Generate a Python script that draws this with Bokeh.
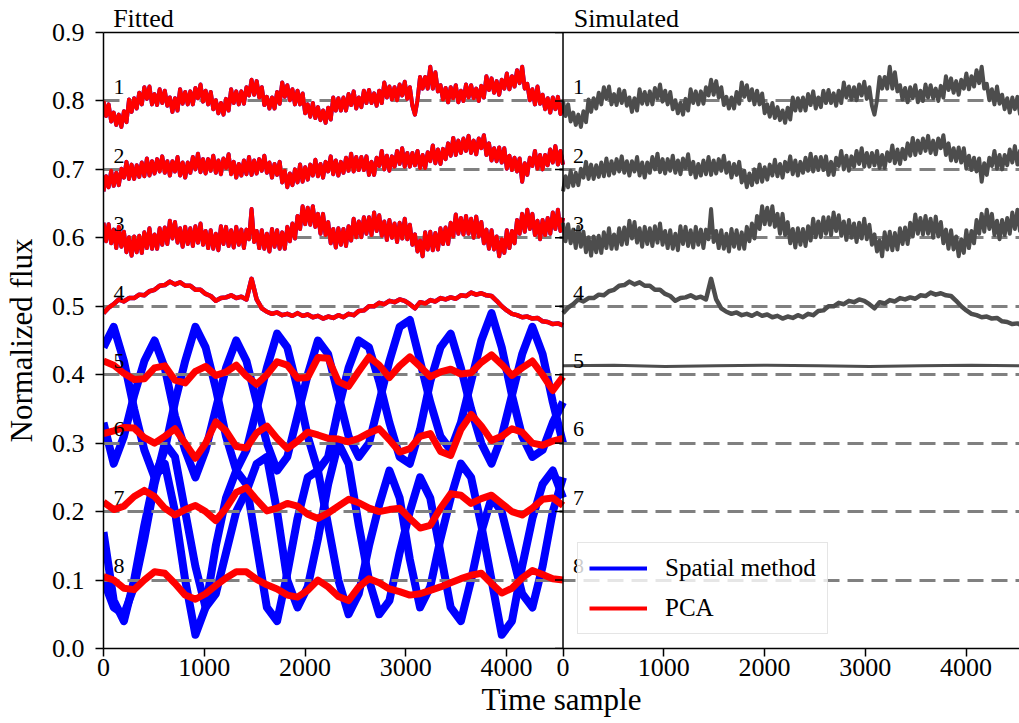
import numpy as np
from bokeh.plotting import figure
from bokeh.models import (Range1d, LinearAxis, FixedTicker, Span, Legend,
                          LegendItem, PrintfTickFormatter)
from bokeh.core.properties import value
from bokeh.embed import file_html
from bokeh.resources import INLINE

FONT = "Liberation Serif"

# ---------------- data ----------------
N_SAMPLES = 4560          # length of each time series
SIM_VISIBLE = 4530        # visible part of the simulated panel
OFFSETS = [0.8, 0.7, 0.6, 0.5, 0.4, 0.3, 0.2, 0.1]
SOURCE_LABELS = ["1", "2", "3", "4", "5", "6", "7", "8"]
Y_TICKS = [0.0, 0.1, 0.2, 0.3, 0.4, 0.5, 0.6, 0.7, 0.8, 0.9]
X_TICKS = [0, 1000, 2000, 3000, 4000]
PANEL_TITLES = ["Fitted", "Simulated"]
TITLE_CENTER_T = 397      # title centre, in samples from each panel's left edge
LABEL_T = 100

T_DENSE = np.linspace(0, N_SAMPLES, 181)
T_FINE = np.linspace(0, N_SAMPLES, 91)
T_COARSE = np.linspace(0, N_SAMPLES, 46)
T_FLAT = np.linspace(0, N_SAMPLES, 10)

SRC1 = [.800, .778, .795, .770, .783, .765, .780, .762, .785, .769,
        .802, .784, .804, .789, .812, .795, .820, .803, .821, .795,
        .810, .794, .817, .797, .815, .793, .805, .784, .804, .786,
        .817, .796, .813, .795, .814, .795, .819, .804, .824, .799,
        .815, .795, .813, .788, .801, .782, .797, .780, .803, .786,
        .817, .797, .814, .795, .814, .796, .820, .808, .831, .809,
        .829, .805, .820, .794, .806, .789, .805, .789, .813, .796,
        .827, .806, .823, .801, .817, .795, .815, .795, .811, .782,
        .795, .777, .797, .775, .791, .772, .786, .768, .790, .773,
        .805, .786, .804, .786, .805, .786, .810, .794, .814, .789,
        .805, .791, .815, .797, .816, .797, .811, .793, .815, .797,
        .827, .805, .821, .802, .820, .801, .824, .808, .828, .803,
        .820, .793, .780, .801, .835, .818, .835, .818, .850, .818,
        .842, .814, .823, .802, .819, .798, .820, .804, .823, .798,
        .815, .800, .824, .805, .823, .804, .818, .800, .822, .805,
        .836, .816, .833, .812, .829, .809, .831, .818, .840, .817,
        .836, .821, .845, .826, .850, .818, .825, .801, .817, .795,
        .821, .796, .809, .788, .804, .783, .805, .788, .806, .781,
        .797]
SRC2 = [.668, .690, .674, .698, .676, .695, .677, .701, .688, .711,
        .686, .707, .686, .706, .689, .710, .690, .716, .691, .712,
        .694, .715, .697, .719, .695, .712, .691, .712, .697, .718,
        .691, .710, .688, .710, .695, .718, .700, .723, .696, .715,
        .694, .715, .698, .720, .695, .713, .693, .716, .702, .722,
        .693, .711, .688, .708, .691, .713, .693, .718, .692, .713,
        .694, .715, .698, .720, .695, .710, .688, .708, .692, .711,
        .681, .698, .674, .694, .677, .700, .681, .707, .682, .703,
        .685, .707, .691, .714, .690, .708, .688, .711, .697, .719,
        .693, .713, .691, .711, .695, .717, .698, .723, .697, .718,
        .699, .718, .699, .719, .692, .711, .692, .717, .705, .727,
        .700, .720, .698, .719, .704, .727, .708, .731, .704, .724,
        .704, .724, .706, .727, .702, .721, .702, .725, .712, .735,
        .709, .729, .708, .730, .715, .738, .720, .746, .721, .742,
        .724, .745, .727, .749, .724, .742, .722, .745, .731, .750,
        .721, .738, .713, .731, .712, .732, .710, .731, .701, .720,
        .699, .717, .697, .716, .682, .709, .692, .717, .705, .727,
        .701, .721, .700, .721, .706, .729, .710, .734, .707, .727,
        .707]
SRC3 = [.622, .595, .620, .592, .612, .585, .616, .587, .609, .579,
        .601, .574, .602, .579, .603, .578, .608, .585, .614, .584,
        .605, .584, .614, .590, .615, .591, .625, .599, .623, .593,
        .614, .587, .616, .591, .614, .588, .617, .593, .621, .590,
        .610, .585, .611, .584, .606, .582, .617, .591, .616, .588,
        .611, .586, .616, .590, .612, .585, .612, .598, .642, .594,
        .610, .585, .611, .584, .606, .580, .613, .587, .611, .584,
        .608, .584, .616, .595, .621, .599, .632, .613, .646, .620,
        .644, .619, .646, .616, .635, .606, .635, .604, .623, .592,
        .613, .586, .614, .590, .613, .588, .617, .596, .628, .601,
        .624, .601, .630, .606, .630, .604, .637, .610, .633, .603,
        .624, .597, .626, .600, .621, .594, .622, .599, .628, .598,
        .619, .590, .605, .580, .596, .573, .608, .583, .609, .582,
        .607, .583, .614, .591, .615, .591, .622, .602, .634, .606,
        .629, .605, .632, .606, .628, .600, .631, .602, .623, .592,
        .612, .584, .611, .583, .602, .573, .598, .578, .611, .585,
        .610, .592, .626, .606, .635, .609, .641, .613, .635, .604,
        .625, .598, .626, .604, .629, .606, .637, .613, .641, .610,
        .629]
SRC4 = [.490, .498, .503, .510, .507, .512, .512, .517, .516, .522,
        .524, .530, .531, .536, .532, .535, .530, .530, .524, .524,
        .518, .515, .508, .512, .513, .516, .512, .514, .510, .540,
        .510, .497, .492, .489, .491, .487, .489, .486, .490, .486,
        .488, .484, .486, .482, .485, .483, .487, .484, .489, .487,
        .493, .494, .500, .500, .505, .503, .508, .506, .510, .508,
        .503, .497, .506, .504, .509, .507, .512, .510, .513, .511,
        .516, .515, .520, .517, .519, .516, .515, .508, .500, .494,
        .489, .487, .484, .485, .482, .483, .478, .477, .474, .475,
        .472]
SIM5 = [.413, .414, .412, .413, .414, .413, .412, .413, .414, .413]

PCA5 = [.420, .414, .402, .393, .394, .410, .413, .392, .388, .405,
        .412, .399, .404, .414, .398, .386, .400, .419, .414, .395,
        .396, .425, .424, .390, .383, .405, .426, .414, .396, .413,
        .426, .412, .397, .404, .408, .401, .403, .418, .429, .415,
        .399, .410, .420, .400, .377, .397]
PCA6 = [.314, .318, .323, .322, .308, .300, .310, .321, .300, .278,
        .300, .331, .318, .295, .293, .315, .325, .307, .292, .303,
        .316, .312, .307, .306, .302, .307, .315, .321, .305, .287,
        .292, .310, .314, .288, .282, .320, .342, .325, .304, .310,
        .321, .316, .300, .297, .303, .307]
PCA7 = [.214, .203, .208, .222, .231, .222, .205, .195, .203, .209,
        .200, .187, .205, .228, .235, .217, .201, .205, .212, .208,
        .196, .190, .198, .208, .218, .213, .205, .200, .203, .205,
        .190, .176, .180, .205, .226, .224, .212, .219, .224, .212,
        .200, .195, .205, .218, .220, .209]
PCA8 = [.105, .100, .088, .086, .100, .112, .110, .095, .078, .072,
        .080, .092, .103, .112, .112, .101, .093, .087, .078, .075,
        .085, .100, .090, .076, .070, .090, .102, .096, .087, .083,
        .078, .080, .085, .090, .096, .102, .107, .110, .095, .081,
        .088, .103, .114, .108, .102, .100]

SPATIAL5 = [.44, .47, .42, .35, .29, .25, .29, .36, .42, .47,
            .44, .38, .31, .26, .29, .35, .41, .46, .44, .38,
            .31, .26, .28, .35, .41, .45, .44, .39, .33, .28,
            .27, .32, .39, .44, .46, .41, .35, .30, .27, .31,
            .37, .43, .47, .43, .36, .30]
SPATIAL6 = [.33, .27, .31, .37, .42, .45, .41, .34, .29, .25,
            .29, .35, .41, .45, .42, .36, .30, .26, .28, .34,
            .40, .45, .43, .37, .31, .28, .30, .36, .42, .47,
            .48, .42, .36, .31, .29, .33, .39, .45, .49, .44,
            .37, .31, .28, .29, .33, .36]
SPATIAL7 = [.17, .07, .04, .10, .18, .25, .27, .20, .10, .02,
            .06, .15, .22, .26, .24, .15, .06, .04, .11, .19,
            .25, .26, .18, .10, .05, .08, .15, .21, .26, .22,
            .13, .06, .09, .16, .22, .27, .25, .18, .10, .02,
            .04, .12, .19, .24, .26, .22]
SPATIAL8 = [.10, .06, .05, .09, .16, .24, .30, .28, .20, .12,
            .06, .08, .14, .20, .23, .27, .28, .20, .10, .06,
            .09, .16, .24, .30, .27, .18, .10, .05, .07, .14,
            .20, .25, .22, .14, .06, .04, .10, .17, .22, .20,
            .14, .08, .06, .12, .20, .25]

RED = "#ff0000"
BLUE = "#0000ff"
SIMC = "#4d4d4d"
DASHC = "#808080"

# ---------------- figure ----------------
p = figure(width=1019, height=723,
           x_range=Range1d(0, N_SAMPLES + SIM_VISIBLE), y_range=Range1d(0, 0.9),
           output_backend="svg", toolbar_location=None,
           min_border_left=103, min_border_right=0, min_border_top=32, min_border_bottom=75)
p.extra_x_ranges = {"sim": Range1d(-N_SAMPLES, SIM_VISIBLE)}
p.grid.visible = False
p.outline_line_color = None
p.background_fill_color = "white"
p.border_fill_color = "white"

xax = p.xaxis[0]
yax = p.yaxis[0]
xax.ticker = FixedTicker(ticks=X_TICKS + [N_SAMPLES + t for t in X_TICKS])
xax.major_label_overrides = {N_SAMPLES + t: str(t) for t in X_TICKS}
yax.ticker = FixedTicker(ticks=Y_TICKS)
yax.formatter = PrintfTickFormatter(format="%.1f")
for ax in (xax, yax):
    ax.axis_line_width = 1.5
    ax.axis_line_color = "black"
    ax.major_tick_line_width = 1.5
    ax.major_tick_line_color = "black"
    ax.major_tick_out = 8
    ax.major_tick_in = 0
    ax.minor_tick_line_color = None
    ax.major_label_text_font = FONT
    ax.major_label_text_font_size = "26px"
    ax.major_label_text_color = "black"
    ax.axis_label_text_font = FONT
    ax.axis_label_text_font_size = "31px"
    ax.axis_label_text_font_style = "normal"
    ax.axis_label_text_color = "black"
xax.major_label_standoff = 2
xax.axis_label = "Time sample"
xax.axis_label_standoff = 3
yax.major_label_standoff = 11
yax.axis_label = "Normalized flux"
yax.axis_label_standoff = 10

# top border carrying the two panel titles
title_ticks = [TITLE_CENTER_T, N_SAMPLES + TITLE_CENTER_T + 232]
top = LinearAxis(ticker=FixedTicker(ticks=title_ticks), axis_line_width=1.5,
                 axis_line_color="black",
                 major_tick_line_color=None, minor_tick_line_color=None,
                 major_tick_out=0, major_tick_in=0, major_label_standoff=0,
                 major_label_overrides=dict(zip(title_ticks, PANEL_TITLES)),
                 major_label_text_font=FONT, major_label_text_font_size="26px",
                 major_label_text_color="black")
p.add_layout(top, "above")

# ---- fitted panel ----
dense_sources = [SRC1, SRC2, SRC3]
pca_coarse = [PCA5, PCA6, PCA7, PCA8]
spatial_coarse = [SPATIAL5, SPATIAL6, SPATIAL7, SPATIAL8]

blue_renderers = []
for s in dense_sources:
    blue_renderers.append(p.line(T_DENSE, s, line_color=BLUE, line_width=4, line_join="round"))
p.line(T_FINE, SRC4, line_color=BLUE, line_width=4.5, line_join="round")
for s in spatial_coarse:
    p.line(T_COARSE, s, line_color=BLUE, line_width=8, line_join="round")

p.hspan(y=OFFSETS, line_color=DASHC, line_width=3, line_dash="16 8")

red_renderers = []
for s in dense_sources:
    red_renderers.append(p.line(T_DENSE, s, line_color=RED, line_width=4, line_join="round"))
p.line(T_FINE, SRC4, line_color=RED, line_width=4.5, line_join="round")
for s in pca_coarse:
    p.line(T_COARSE, s, line_color=RED, line_width=7, line_join="round")

# ---- simulated panel ----
for s in dense_sources:
    p.line(T_DENSE, s, line_color=SIMC, line_width=4, line_join="round", x_range_name="sim")
p.line(T_FINE, SRC4, line_color=SIMC, line_width=4.5, line_join="round", x_range_name="sim")
p.line(T_FLAT, SIM5, line_color=SIMC, line_width=3, x_range_name="sim")

# divider between panels and its y ticks
p.add_layout(Span(location=N_SAMPLES, dimension="height", line_color="black", line_width=1.5))
p.ray(x=[N_SAMPLES] * len(Y_TICKS), y=Y_TICKS, length=8, length_units="screen",
      angle=np.pi, line_color="black", line_width=1.5)

# source numbers
label_y = [o + 0.02 for o in OFFSETS]
for rng in ("default", "sim"):
    p.text(x=[LABEL_T] * len(OFFSETS), y=label_y, text=SOURCE_LABELS,
           text_font=value(FONT), text_font_size="22px", text_color="black",
           text_baseline="alphabetic", text_align="left", x_range_name=rng)

legend = Legend(items=[LegendItem(label="Spatial method", renderers=[blue_renderers[0]]),
                       LegendItem(label="PCA", renderers=[red_renderers[0]])],
                location=(474, 14), label_text_font=FONT, label_text_font_size="25px",
                label_text_color="black",
                glyph_width=58, glyph_height=26, label_height=26, spacing=12, padding=11,
                label_standoff=18, border_line_color="#cccccc", border_line_width=1.5,
                background_fill_color="white", background_fill_alpha=0.8, margin=0)
p.add_layout(legend)

open("out.html", "w").write(file_html(p, INLINE))
